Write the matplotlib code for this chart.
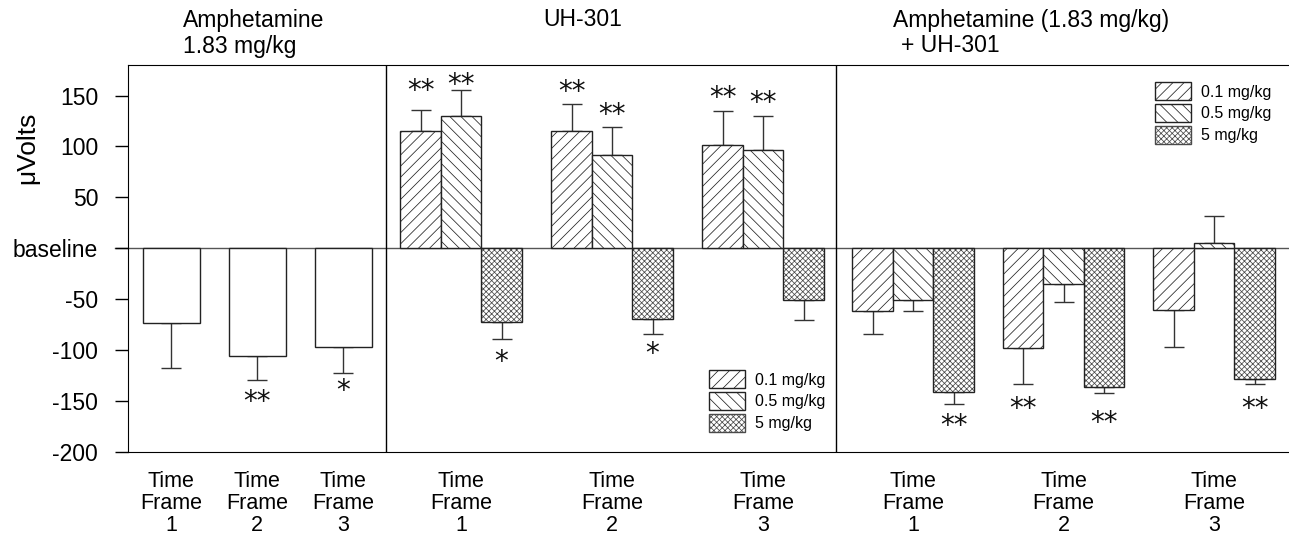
import matplotlib.pyplot as plt
from matplotlib.patches import Patch

plt.rcParams['font.family'] = ['Liberation Sans', 'DejaVu Sans']
plt.rcParams['hatch.linewidth'] = 0.55

# Data
doses = ["0.1 mg/kg", "0.5 mg/kg", "5 mg/kg"]
frames = ["Time\nFrame\n1", "Time\nFrame\n2", "Time\nFrame\n3"]

amph = [-73, -106, -97]
amph_err = [45, 23, 25]
amph_stars = ["", "**", "*"]
amph_star_y = [None, -151, -140]

# UH-301 alone: rows = dose, cols = time frame
uh = [[115, 115, 101],
      [130, 92, 97],
      [-72, -69, -51]]
uh_err = [[21, 27, 34],
          [25, 27, 33],
          [17, 15, 19]]
uh_stars = [["**", "**", "**"],
            ["**", "**", "**"],
            ["*", "*", ""]]
uh_star_y = [[154, 153, 148],
             [160, 131, 143],
             [-112, -104, None]]

# Amphetamine + UH-301
combo = [[-62, -98, -61],
         [-51, -35, 5],
         [-141, -136, -128]]
combo_err = [[22, 35, 36],
             [11, 18, 27],
             [12, 6, 5]]
combo_stars = [["", "**", ""],
               ["", "", ""],
               ["**", "**", "**"]]
combo_star_y = [[None, -158, None],
                [None, None, None],
                [-174, -172, -158]]

hatches = ['///', '\\\\\\', 'xxxxxx']
hatch_colors = ['#222222', '#222222', '#4a4a4a']

fig = plt.figure(figsize=(12.89, 5.34), dpi=100)
ax = fig.add_axes([128 / 1289, 1 - 452 / 534, 1 - 128 / 1289, (452 - 65) / 534])

# layout (x units)
p1_centers = [0.86 + 1.72 * i for i in range(3)]
p1_width = 1.14
p2_centers = [6.66 + 3.02 * i for i in range(3)]
p3_centers = [15.70 + 3.01 * i for i in range(3)]
w = 0.81
sep = [5.16, 14.16]


def draw(x, h, e, d=None):
    width = p1_width if d is None else w
    if d is not None:
        # hatch fill first, then the dark outline on top
        ax.bar(x, h, width=width, color='white', edgecolor=hatch_colors[d],
               linewidth=0, hatch=hatches[d], zorder=2)
        ax.bar(x, h, width=width, fill=False, edgecolor='#222222', linewidth=1.0, zorder=2)
    else:
        ax.bar(x, h, width=width, color='white', edgecolor='#222222', linewidth=1.0, zorder=2)
    lo = [ei if hi < 0 else 0 for hi, ei in zip(h, e)]
    up = [ei if hi >= 0 else 0 for hi, ei in zip(h, e)]
    ax.errorbar(x, h, yerr=[lo, up], fmt='none', ecolor='#333333', elinewidth=1,
                capsize=7, capthick=1, zorder=1)


def stars(x, labels, ys):
    for xi, s, yi in zip(x, labels, ys):
        if s:
            ax.text(xi, yi, s, ha='center', va='center', fontsize=20,
                    family='DejaVu Sans', color='#111111', zorder=3)


# panel 1
draw(p1_centers, amph, amph_err)
stars(p1_centers, amph_stars, amph_star_y)

# panels 2 and 3
for centers, vals, errs, st, sty in [(p2_centers, uh, uh_err, uh_stars, uh_star_y),
                                     (p3_centers, combo, combo_err, combo_stars, combo_star_y)]:
    for d in range(3):
        xs = [c + (d - 1) * w for c in centers]
        draw(xs, vals[d], errs[d], d)
        stars(xs, st[d], sty[d])

ax.axhline(0, color='#555555', linewidth=1, zorder=0, clip_on=False, xmin=-0.011)
for s in sep:
    ax.axvline(s, color='black', linewidth=1, zorder=0)

ax.set_xlim(0, 23.22)
ax.set_ylim(-200, 180)
ax.set_yticks([-200, -150, -100, -50, 0, 50, 100, 150])
ax.set_yticklabels(['-200', '-150', '-100', '-50', 'baseline', '50', '100', '150'])
ax.tick_params(axis='y', direction='out', length=9.5, width=1, labelsize=16.5, pad=12)
ax.set_xticks(p1_centers + p2_centers + p3_centers)
ax.set_xticklabels(frames * 3, linespacing=1.04)
ax.tick_params(axis='x', length=0, labelsize=15.5, pad=14)
ax.spines['right'].set_visible(False)

fig.text(27 / 1289, 1 - 148 / 534, "\u03bcVolts", rotation=90, ha='center', va='center',
         fontsize=19)

title_fs = 16.5
fig.text(183 / 1289, 1 - 20 / 534, "Amphetamine", fontsize=title_fs, va='center')
fig.text(183 / 1289, 1 - 46 / 534, "1.83 mg/kg", fontsize=title_fs, va='center')
fig.text(543 / 1289, 1 - 20 / 534, "UH-301", fontsize=title_fs, va='center')
fig.text(893 / 1289, 1 - 20 / 534, "Amphetamine (1.83 mg/kg)", fontsize=title_fs, va='center')
fig.text(901 / 1289, 1 - 46 / 534, "+ UH-301", fontsize=title_fs, va='center')

handles = [Patch(facecolor='white', edgecolor=c, hatch=h) for h, c in zip(hatches, hatch_colors)]
for bx, by in [(709, 370), (1155, 82)]:
    fig.legend(handles, doses, loc='upper left', bbox_to_anchor=(bx / 1289, 1 - by / 534),
               frameon=False, fontsize=11.5, handlelength=2.25, handleheight=1.4,
               labelspacing=0.22, handletextpad=0.6, borderpad=0, borderaxespad=0)

fig.savefig('out.png', dpi=100)
